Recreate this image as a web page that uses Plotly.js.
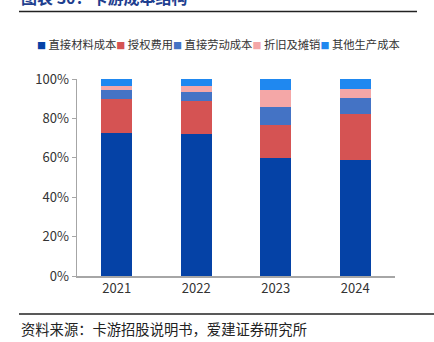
<!DOCTYPE html>
<html><head><meta charset="utf-8">
<script src="https://cdn.plot.ly/plotly-3.0.1.min.js"></script>
<style>body{margin:0;padding:0;background:#fff}#chart{width:434px;height:342px}</style>
</head><body><div id="chart"></div>
<script>
const years = ['2021', '2022', '2023', '2024'];
const seriesNames = ['直接材料成本', '授权费用', '直接劳动成本', '折旧及摊销', '其他生产成本'];
const material = [0.726, 0.722, 0.599, 0.587];
const license = [0.172, 0.165, 0.166, 0.235];
const labor = [0.044, 0.045, 0.093, 0.083];
const depreciation = [0.021, 0.031, 0.088, 0.043];
const other = [0.037, 0.037, 0.054, 0.052];
const colors = ['#0542A6', '#D55353', '#4473C5', '#F4A7A7', '#1F88F0'];
const titleText = '图表 30：卡游成本结构';
const sourceText = '资料来源：卡游招股说明书，爱建证券研究所';

const values = [material, license, labor, depreciation, other];
const font = 'Noto Sans CJK SC, sans-serif';
const traces = values.map((v, i) => ({
  type: 'bar', x: years, y: v, name: seriesNames[i],
  marker: {color: colors[i], line: {width: 0}},
  hoverinfo: 'x+y+name'
}));

// custom legend text built from series names and colors
const legendHtml = seriesNames.map((n, i) =>
  `<span style="color:${colors[i]};font-size:9px">■</span> ${n}`).join('');

const layout = {
  width: 434, height: 342,
  margin: {l: 77, r: 39, t: 79, b: 66},
  barmode: 'stack', bargap: 0.61,
  showlegend: false,
  paper_bgcolor: '#fff', plot_bgcolor: '#fff',
  font: {family: font, color: '#333'},
  xaxis: {
    showline: true, linecolor: '#A6A6A6', linewidth: 1.5,
    ticks: '', tickfont: {size: 13, color: '#333'}, showgrid: false, zeroline: false
  },
  yaxis: {
    range: [0, 1], dtick: 0.2, tickformat: '.0%',
    showline: true, linecolor: '#A6A6A6', linewidth: 1.5,
    ticks: 'outside', ticklen: 4, tickcolor: '#A6A6A6', tickwidth: 1,
    tickfont: {size: 13, color: '#333'}, showgrid: false, zeroline: false
  },
  annotations: [
    {text: legendHtml, xref: 'paper', yref: 'paper', x: (35 - 77) / 318, y: (276 - 44) / 197,
     xanchor: 'left', yanchor: 'middle', showarrow: false, font: {size: 11.3, color: '#333', family: font}},
    {text: '<b>' + titleText + '</b>', xref: 'paper', yref: 'paper', x: (19 - 77) / 318, y: (276 + 3) / 197,
     xanchor: 'left', yanchor: 'middle', showarrow: false, font: {size: 16, color: '#1F3F8F', family: font}},
    {text: sourceText, xref: 'paper', yref: 'paper', x: (19 - 77) / 318, y: (276 - 328) / 197,
     xanchor: 'left', yanchor: 'middle', showarrow: false, font: {size: 14.3, color: '#222', family: font}}
  ],
  shapes: [
    {type: 'line', xref: 'paper', yref: 'paper', x0: (19 - 77) / 318, x1: (417 - 77) / 318,
     y0: (276 - 11.5) / 197, y1: (276 - 11.5) / 197, line: {color: '#222', width: 1.5}},
    {type: 'line', xref: 'paper', yref: 'paper', x0: (19 - 77) / 318, x1: (434 - 77) / 318,
     y0: (276 - 314) / 197, y1: (276 - 314) / 197, line: {color: '#222', width: 1.5}}
  ]
};
Plotly.newPlot('chart', traces, layout, {displayModeBar: false, staticPlot: true});
</script></body></html>
